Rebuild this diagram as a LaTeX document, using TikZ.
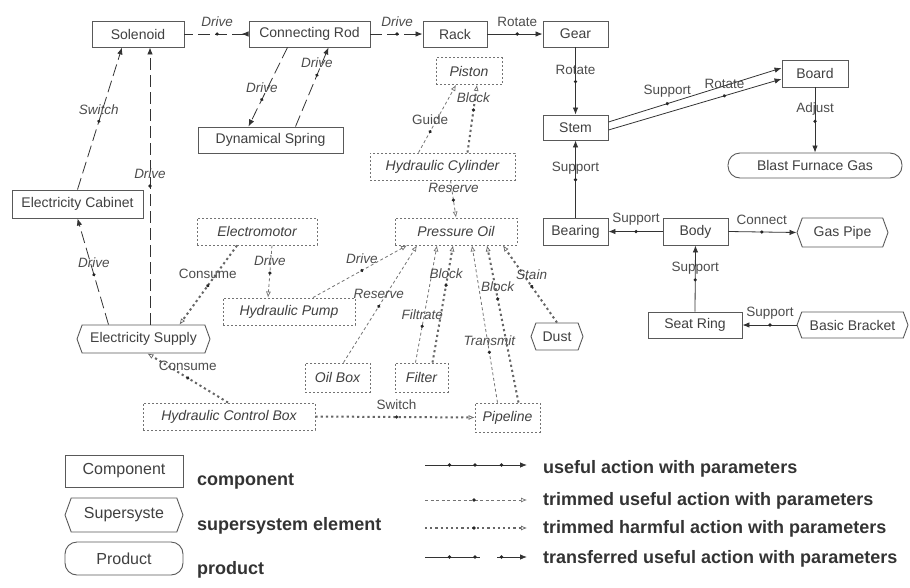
\documentclass[tikz,border=0pt]{standalone}
\usepackage{fontspec}
\setmainfont{Liberation Sans}
\usetikzlibrary{arrows.meta,shapes.symbols,decorations.markings}
\tikzset{
  every node/.style={inner sep=0pt, text=black!75},
  sz/.style 2 args={minimum width=#1pt, minimum height=#2pt},
  nfont/.style={font=\fontsize{14}{16}\selectfont},
  comp/.style={rectangle, draw=black!65, line width=0.9pt, fill=white, nfont},
  trim/.style={rectangle, draw=black!55, line width=0.9pt, dash pattern=on 2pt off 2pt, fill=white, font=\fontsize{14}{16}\selectfont\itshape},
  super/.style={signal, signal to=west and east, signal pointer angle=140, draw=black!65, line width=0.9pt, fill=white, nfont},
  prod/.style={rectangle, rounded corners=12pt, draw=black!65, line width=0.9pt, fill=white, nfont},
  labu/.style={font=\fontsize{13.5}{15}\selectfont, text=black!70, yshift=12pt},
  labi/.style={font=\fontsize{13.5}{15}\selectfont\itshape, text=black!70, yshift=12pt},
  legtxt/.style={font=\fontsize{18}{20}\selectfont\bfseries, text=black!80},
  dot/.style={postaction={decorate, decoration={markings, mark=at position #1 with {\fill[black!85] (0,0) circle (1.8pt);}}}},
  useful/.style={draw=black!80, line width=0.8pt, -{Latex[length=7pt,width=5.5pt]}},
  trans/.style={draw=black!80, line width=0.8pt, dash pattern=on 12pt off 5pt, -{Latex[length=7pt,width=5.5pt]}},
  trimu/.style={draw=black!55, line width=0.8pt, dash pattern=on 3pt off 2.5pt, -{Latex[open,length=6pt,width=5pt,line width=0.7pt]}},
  harm/.style={draw=black!60, line width=2pt, dash pattern=on 2.2pt off 3pt, -{Latex[open,length=6pt,width=5pt,line width=0.7pt]}},
}
\begin{document}
\begin{tikzpicture}[x=1pt, y=-1pt]
\useasboundingbox (0,0) rectangle (910,587);
% nodes
\node[comp, sz={92}{26}] (sol) at (138,34) {Solenoid};
\node[comp, sz={121}{26}] (rod) at (309.5,34) {Connecting Rod};
\node[comp, sz={64}{26}] (rack) at (455,34) {Rack};
\node[comp, sz={65}{26}] (gear) at (575.5,34) {Gear};
\node[trim, sz={66}{27}] (piston) at (469,71) {Piston};
\node[comp, sz={145}{26}] (spring) at (270.5,140) {Dynamical Spring};
\node[trim, sz={145}{27}] (hcyl) at (442.5,166.5) {Hydraulic Cylinder};
\node[comp, sz={65}{25}] (stem) at (575.5,127.5) {Stem};
\node[comp, sz={66}{27}] (board) at (815,73.5) {Board};
\node[prod, sz={174}{25}] (bfg) at (815,165.5) {Blast Furnace Gas};
\node[comp, sz={131}{28}] (cab) at (77.5,204) {Electricity Cabinet};
\node[trim, sz={120}{27}] (emotor) at (257,231.5) {Electromotor};
\node[trim, sz={122}{27}] (poil) at (456,231.5) {Pressure Oil};
\node[comp, sz={65}{27}] (bearing) at (575.5,231.5) {Bearing};
\node[comp, sz={65}{27}] (body) at (695.5,231.5) {Body};
\node[super, sz={91}{29}] (gaspipe) at (842.5,232.5) {Gas Pipe};
\node[trim, sz={132}{27}] (pump) at (289,311.5) {Hydraulic Pump};
\node[super, sz={133}{28}] (esupply) at (143.5,339) {Electricity Supply};
\node[super, sz={52}{27}] (dust) at (557,336.5) {Dust};
\node[comp, sz={94}{26}] (seat) at (695,325) {Seat Ring};
\node[super, sz={111}{26}] (bracket) at (852.5,325) {Basic Bracket};
\node[trim, sz={65}{29}] (oilbox) at (337.5,377.5) {Oil Box};
\node[trim, sz={53}{29}] (filter) at (421.5,377.5) {Filter};
\node[trim, sz={172}{27}] (hcb) at (229,416.5) {Hydraulic Control Box};
\node[trim, sz={65}{29}] (pipeline) at (507.5,417.5) {Pipeline};
% top chain
\draw[trans, {Latex[reversed,length=7pt,width=5.5pt]}-, dot=0.49] (rod.west) -- node[labi,pos=0.49]{Drive} (sol.east);
\draw[trans, dot=0.51] (rod.east) -- node[labi,pos=0.51]{Drive} (rack.west);
\draw[useful, dot=0.54] (rack.east) -- node[labu,pos=0.54]{Rotate} (gear.west);
\draw[useful, dot=0.51] (gear.south) -- node[labu,pos=0.51]{Rotate} (stem.north);
\draw[useful, dot=0.34] ([yshift=5.5pt]stem.east) -- node[labu,pos=0.34]{Support} ([yshift=5.5pt]board.west);
\draw[useful, dot=0.67] ([yshift=-2.5pt]stem.east) -- node[labu,pos=0.67]{Rotate} ([yshift=-5.5pt]board.west);
\draw[useful, dot=0.52] (board.south) -- node[labu,pos=0.52]{Adjust} (bfg.north);
\draw[useful, dot=0.49] (bearing.north) -- node[labu,pos=0.49]{Support} (stem.south);
\draw[useful, dot=0.49] (body.west) -- node[labu,pos=0.49]{Support} (bearing.east);
\draw[useful, dot=0.49] (body.east) -- node[labu,pos=0.49]{Connect} (gaspipe.west);
\draw[useful, dot=0.48] (seat.north) -- node[labu,pos=0.48]{Support} (body.south);
\draw[useful, dot=0.49] (bracket.west) -- node[labu,pos=0.49]{Support} (seat.east);
% left
\draw[trans, dot=0.48] (cab.north) -- node[labi,pos=0.48]{Switch} ([xshift=-16pt]sol.south);
\draw[trans, dot=0.5] ([xshift=6.5pt]esupply.north) -- node[labi,pos=0.5]{Drive} ([xshift=12pt]sol.south);
\draw[trans, dot=0.47] ([xshift=-35pt]esupply.north) -- node[labi,pos=0.47]{Drive} (cab.south);
\draw[trans, dot=0.66] ([xshift=-22pt]rod.south) -- node[labi,pos=0.66]{Drive} ([xshift=-22pt]spring.north);
\draw[trans, dot=0.65] ([xshift=25pt]spring.north) -- node[labi,pos=0.65]{Drive} ([xshift=19pt]rod.south);
% hydraulic
\draw[harm, dot=0.51] ([xshift=-20pt]emotor.south) -- node[labu,pos=0.51]{Consume} ([xshift=36pt]esupply.north);
\draw[trimu, dot=0.53] ([xshift=15pt]emotor.south) -- node[labi,pos=0.53]{Drive} ([xshift=-21pt]pump.north);
\draw[trimu, dot=0.52] ([xshift=24pt]pump.north) -- node[labi,pos=0.52]{Drive} ([xshift=-49pt]poil.south);
\draw[trimu, dot=0.48] ([xshift=6pt]oilbox.north) -- node[labi,pos=0.48]{Reserve} ([xshift=-39pt]poil.south);
\draw[trimu, dot=0.31] ([xshift=-6pt]filter.north) -- node[labi,pos=0.31]{Filtrate} ([xshift=-19pt]poil.south);
\draw[harm, dot=0.66] ([xshift=11pt]filter.north) -- node[labi,pos=0.66]{Block} ([xshift=-3pt]poil.south);
\draw[trimu, dot=0.32] ([xshift=-10pt]pipeline.north) -- node[labi,pos=0.32]{Transmit} ([xshift=16pt]poil.south);
\draw[harm, dot=0.66] ([xshift=11pt]pipeline.north) -- node[labi,pos=0.66]{Block} ([xshift=31pt]poil.south);
\draw[harm, dot=0.47] (dust.north) -- node[labi,pos=0.47]{Stain} ([xshift=47pt]poil.south);
\draw[trimu, dot=0.53] ([xshift=8pt]hcyl.south) -- node[labi,pos=0.53]{Reserve} (poil.north);
\draw[trimu, dot=0.31] ([xshift=-24pt]hcyl.north) -- node[labu,pos=0.31]{Guide} ([xshift=-13pt]piston.south);
\draw[harm, dot=0.63] ([xshift=25pt]hcyl.north) -- node[labi,pos=0.63]{Block} ([xshift=8pt]piston.south);
\draw[harm, dot=0.5] ([xshift=-1pt]hcb.north) -- node[labu,pos=0.5]{Consume} ([xshift=4pt]esupply.south);
\draw[harm, dot=0.51] (hcb.east) -- node[labu,pos=0.51]{Switch} (pipeline.west);
% legend
\node[comp, sz={118}{32}, font=\fontsize{16}{18}\selectfont] (lcomp) at (124,471) {Component};
\node[super, sz={118}{34}, font=\fontsize{16}{18}\selectfont] (lsup) at (124,515) {\raisebox{3pt}{Supersyste}};
\node[prod, sz={118}{33}, font=\fontsize{16}{18}\selectfont] (lprod) at (124,558.5) {Product};
\node[legtxt, anchor=mid west] (tc) at (197,483) {component};
\node[legtxt, anchor=mid west] (ts) at (197,528) {supersystem element};
\node[legtxt, anchor=mid west] (tp) at (197,572) {product};
\coordinate (a1) at (425,465); \coordinate (b1) at (527,465);
\coordinate (a2) at (425,500); \coordinate (b2) at (527,500);
\coordinate (a3) at (425,528); \coordinate (b3) at (527,528);
\coordinate (a4) at (425,557); \coordinate (b4) at (527,557);
\draw[useful, dot=0.24, dot=0.49, dot=0.75] (a1) -- (b1);
\draw[trimu, dot=0.48] (a2) -- (b2);
\draw[harm, dot=0.48] (a3) -- (b3);
\draw[useful, dash pattern=on 55pt off 17pt, dot=0.24, dot=0.49, dot=0.75] (a4) -- (b4);
\node[legtxt, anchor=mid west] (l1) at (543,471) {useful action with parameters};
\node[legtxt, anchor=mid west] (l2) at (543,503) {trimmed useful action with parameters};
\node[legtxt, anchor=mid west] (l3) at (543,531) {trimmed harmful action with parameters};
\node[legtxt, anchor=mid west] (l4) at (543,561) {transferred useful action with parameters};
\end{tikzpicture}
\end{document}
